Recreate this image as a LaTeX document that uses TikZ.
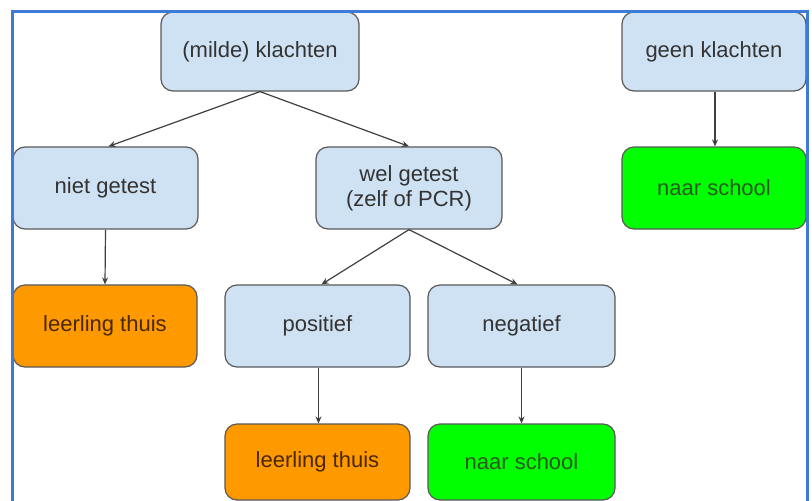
\documentclass[tikz,border=0pt]{standalone}
\usepackage{fontspec}
\setmainfont{Liberation Sans}
\usetikzlibrary{arrows.meta}
\definecolor{boxblue}{HTML}{CFE2F3}
\definecolor{boxorange}{HTML}{FF9900}
\definecolor{boxgreen}{HTML}{00FF00}
\definecolor{edgegrey}{HTML}{595959}
\definecolor{framblue}{HTML}{3D7BD9}
\definecolor{txtgrey}{HTML}{333333}
\definecolor{txtbrown}{HTML}{4A2800}
\definecolor{txtgreen}{HTML}{2A5A1E}
\tikzset{
  box/.style={draw=edgegrey, line width=1.2pt, rounded corners=12pt,
    font=\fontsize{22}{25}\selectfont, align=center, inner sep=0pt},
  bluebox/.style={box, fill=boxblue, text=txtgrey},
  orangebox/.style={box, fill=boxorange, text=txtbrown},
  greenbox/.style={box, fill=boxgreen, text=txtgreen},
  conn/.style={draw=black!75, line width=1.2pt, -{Stealth[length=7pt,width=6pt]}},
}
\begin{document}
\begin{tikzpicture}[x=1pt,y=-1pt]
\useasboundingbox (0,0) rectangle (812,501);
\fill[white] (0,0) rectangle (812,501);
% top row
\node[bluebox, minimum width=198pt, minimum height=79pt] (milde) at (260,51.5) {(milde) klachten};
\node[bluebox, minimum width=184pt, minimum height=79pt] (geen) at (714,51.5) {geen klachten};
% second row
\node[bluebox, minimum width=185pt, minimum height=82pt] (niet) at (105.5,188) {niet getest};
\node[bluebox, minimum width=186pt, minimum height=82pt] (wel) at (409,188) {wel getest\\(zelf of PCR)};
\node[greenbox, minimum width=184pt, minimum height=82pt] (school1) at (714,188) {naar school};
% third row
\node[orangebox, minimum width=184pt, minimum height=82pt] (thuis1) at (105,326) {leerling thuis};
\node[bluebox, minimum width=185pt, minimum height=82pt] (pos) at (317.5,326) {positief};
\node[bluebox, minimum width=187pt, minimum height=82pt] (neg) at (521.5,326) {negatief};
% fourth row
\node[orangebox, minimum width=185pt, minimum height=76pt] (thuis2) at (317.5,462) {leerling thuis};
\node[greenbox, minimum width=187pt, minimum height=76pt] (school2) at (521.5,462) {naar school};
% connectors
\draw[conn] (milde.south) -- ([xshift=3pt]niet.north);
\draw[conn] (milde.south) -- (wel.north);
\draw[conn] (wel.south) -- ([xshift=4pt]pos.north);
\draw[conn] (wel.south) -- ([xshift=-4pt]neg.north);
\draw[conn] (niet.south) -- (thuis1.north);
\draw[conn] ([xshift=1pt]pos.south) -- ([xshift=1pt]thuis2.north);
\draw[conn] (neg.south) -- (school2.north);
\draw[conn] ([xshift=1pt]geen.south) -- ([xshift=1pt]school1.north);
% frame
\draw[framblue, line width=3pt] (12,501) -- (12,11) -- (807,11) -- (807,501);
\end{tikzpicture}
\end{document}
